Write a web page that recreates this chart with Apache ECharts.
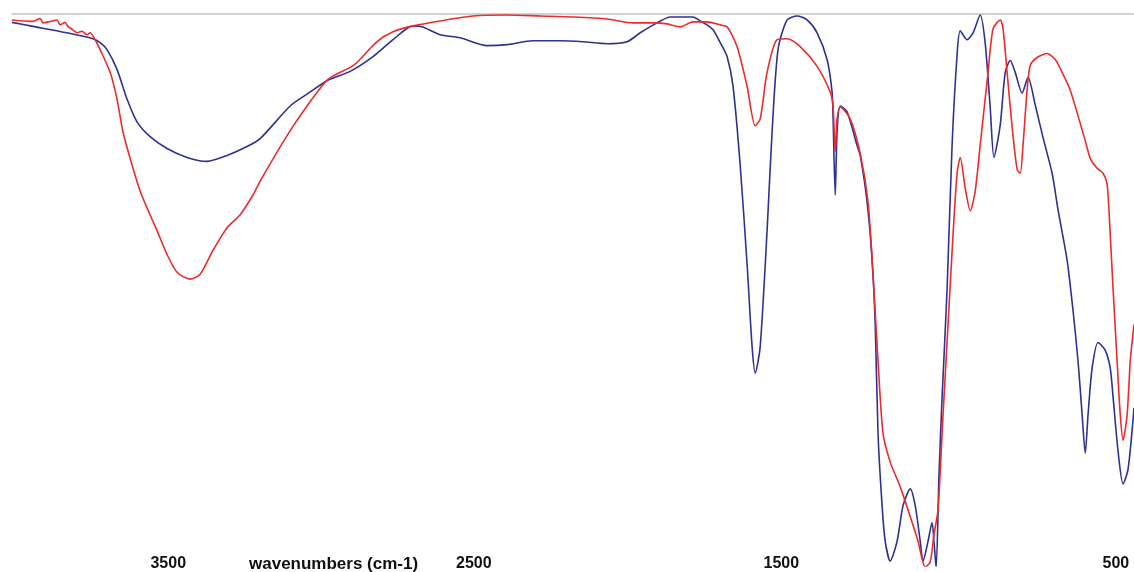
<!DOCTYPE html>
<html>
<head>
<meta charset="utf-8">
<script src="https://cdn.jsdelivr.net/npm/echarts@6/dist/echarts.min.js"></script>
<style>
html,body{margin:0;padding:0;background:#fff;}
#chart{width:1134px;height:572px;}
</style>
</head>
<body>
<div id="chart"></div>
<script>
// wavenumber (cm-1) / transmittance pairs
const blueWavenumbers = [4000,3933,3824,3741,3718,3696,3664,3632,3600,3558,3504,3440,3376,3312,3248,3206,3110,3056,2989,2918,2845,2781,2717,2688,2630,2566,2480,2416,2333,2246,2173,2096,2032,1990,1936,1894,1821,1798,1776,1757,1734,1712,1693,1670,1648,1632,1622,1606,1584,1568,1549,1520,1488,1456,1424,1392,1376,1373,1366,1360,1350,1328,1296,1286,1264,1248,1238,1229,1216,1206,1190,1168,1149,1126,1110,1094,1085,1069,1056,1050,1043,1034,1024,1008,992,976,966,944,925,902,886,870,858,838,822,806,790,768,749,726,701,672,653,624,605,589,576,566,557,544,525,502,486,477,461,445,429,410];
const blueValues = [98.3,97.5,96.2,95.0,94.2,92.8,88.8,82.8,78.2,75.2,72.8,71.0,70.2,71.4,73.2,74.8,81.4,83.8,86.6,88.4,91.4,94.8,97.6,97.4,95.8,95.2,93.6,93.8,94.6,94.6,94.4,94.0,94.4,96.2,98.2,99.4,99.4,98.6,97.8,96.8,94.2,91.4,85.4,69.4,49.4,32.8,27.4,32.8,56.2,76.2,92.8,98.8,99.6,98.8,96.2,90.8,84.2,79.4,63.4,76.2,81.4,80.2,73.4,71.4,62.0,50.2,37.2,15.2,0.6,-6.6,-10.6,-6.6,0.6,4.0,0.6,-6.6,-10.6,-6.6,-2.8,-6.6,-12.0,6.8,22.6,44.4,73.6,91.8,96.6,94.8,96.2,99.8,94.0,81.0,71.0,77.6,88.2,90.6,88.2,84.0,87.2,81.6,75.0,67.8,60.4,50.2,40.0,29.8,19.0,11.2,19.0,28.4,33.6,32.0,28.4,22.6,11.6,5.0,8.0,20.4];

const redWavenumbers = [4000,3933,3910,3901,3878,3856,3846,3830,3821,3805,3792,3776,3760,3750,3734,3718,3686,3664,3645,3622,3590,3568,3536,3504,3472,3430,3398,3357,3312,3270,3229,3206,3120,3056,2989,2918,2896,2832,2781,2717,2630,2525,2416,2310,2205,2096,2013,1949,1904,1862,1821,1776,1734,1712,1680,1648,1622,1606,1584,1552,1520,1478,1424,1382,1373,1366,1360,1350,1318,1286,1261,1245,1229,1213,1190,1158,1126,1101,1078,1062,1050,1037,1021,1005,989,976,966,950,934,918,902,877,861,838,829,816,800,784,774,765,752,742,720,688,662,640,614,589,566,550,528,509,496,486,477,464,454,445,432,422,410];
const redValues = [98.8,98.5,99.1,98.2,98.5,98.8,97.8,98.3,97.5,96.8,96.2,96.5,95.8,96.2,94.8,92.8,88.2,82.8,76.2,70.8,64.2,60.8,56.2,51.4,47.8,46.4,47.4,52.2,56.8,59.4,63.4,66.2,75.4,81.4,86.8,89.2,90.2,94.4,96.4,97.6,98.6,99.6,99.8,99.6,99.4,99.0,98.2,98.2,98.0,97.4,98.4,98.4,97.8,97.4,93.4,85.4,77.4,78.8,88.2,94.8,95.0,93.4,89.4,84.2,81.4,72.2,78.8,81.2,78.8,71.8,62.0,47.4,29.8,15.2,9.4,4.4,-1.6,-6.6,-11.8,-10.8,-5.2,-0.2,19.0,37.2,55.4,67.8,71.0,64.8,60.2,64.2,73.6,88.2,97.0,98.8,97.0,88.2,77.2,68.6,67.8,73.6,84.6,89.6,91.2,92.0,90.8,88.2,84.6,79.4,74.4,70.8,68.8,67.8,65.6,55.4,44.4,29.8,19.0,13.8,19.0,29.8,37.2];

const tickLabels = [3500, 2500, 1500, 500];
const axisTitle = 'wavenumbers (cm-1)';

function pairs(xs, ys) { return xs.map((x, i) => [x, ys[i]]); }

const labelFont = {fontFamily: 'Liberation Sans, Arial, sans-serif', fontWeight: 'bold', fontSize: 16, color: '#111'};
const chart = echarts.init(document.getElementById('chart'), null, {renderer: 'canvas'});
chart.setOption({
  animation: false,
  backgroundColor: '#ffffff',
  title: {
    text: axisTitle,
    left: 244,
    top: 551,
    textStyle: {fontFamily: 'Liberation Sans, Arial, sans-serif', fontWeight: 'bold', fontSize: 17, color: '#111'}
  },
  grid: {left: 12, right: 0, top: 14, bottom: 0, containLabel: false},
  xAxis: [{
    type: 'value', inverse: true, min: 410, max: 4000, position: 'bottom',
    axisLine: {show: false}, axisTick: {show: false}, splitLine: {show: false},
    axisLabel: Object.assign({
      customValues: tickLabels, inside: true, margin: -6,
      formatter: function (v) {
        const key = v === 2500 ? 'b' : v === 1500 ? 'c' : v === 500 ? 'd' : 'a';
        return '{' + key + '|' + String(v) + '}';
      },
      rich: {
        a: Object.assign({}, labelFont),
        b: Object.assign({padding: [0, 14, 0, 0]}, labelFont),
        c: Object.assign({padding: [0, 24, 0, 0]}, labelFont),
        d: Object.assign({padding: [0, 0, 0, 20]}, labelFont)
      }
    }, labelFont)
  }, {
    type: 'value', inverse: true, min: 410, max: 4000, position: 'top',
    axisLine: {show: true, lineStyle: {color: '#c4c4c4', width: 1.5}},
    axisTick: {show: false}, axisLabel: {show: false}, splitLine: {show: false}
  }],
  yAxis: {
    type: 'value', min: -11.6, max: 100, show: false, splitLine: {show: false}
  },
  series: [{
    name: 'blue', type: 'line', data: pairs(blueWavenumbers, blueValues),
    showSymbol: false, smooth: 0.25,
    lineStyle: {color: '#2e3192', width: 1.6}, z: 2
  }, {
    name: 'red', type: 'line', data: pairs(redWavenumbers, redValues),
    showSymbol: false, smooth: 0.25,
    lineStyle: {color: '#ee2a2a', width: 1.6}, z: 3
  }]
});
</script>
</body>
</html>
